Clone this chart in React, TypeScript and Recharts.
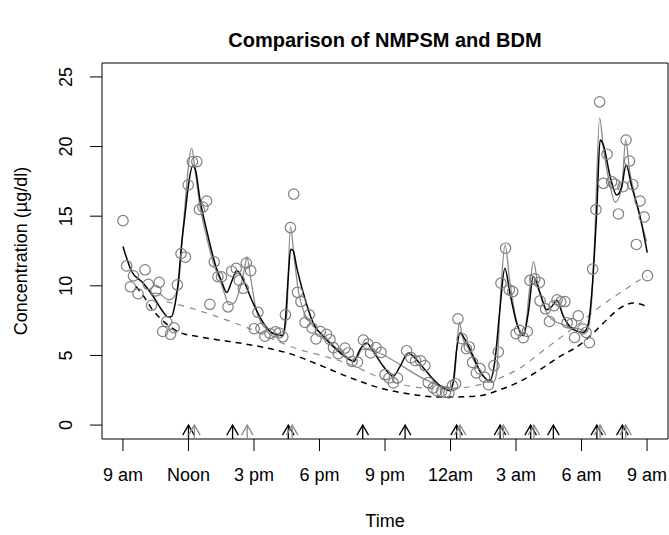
import React from 'react';
import {
  ComposedChart, Line, Scatter, XAxis, YAxis, ReferenceLine, ReferenceArea,
} from 'recharts';

// ---- data (time in hours after 9 am, concentration in µg/dl) ----
const xTicks = [0, 3, 6, 9, 12, 15, 18, 21, 24];
const xTickLabels = ['9 am', 'Noon', '3 pm', '6 pm', '9 pm', '12am', '3 am', '6 am', '9 am'];
const yTicks = [0, 5, 10, 15, 20, 25];

const observed: [number, number][] = [
  [0.0, 14.68], [0.17, 11.43], [0.34, 9.93], [0.48, 10.72], [0.69, 9.43], [1.01, 11.15], [1.16, 10.11],
  [1.31, 8.6], [1.51, 9.64], [1.66, 10.25], [1.82, 6.72], [2.0, 7.42], [2.18, 6.52], [2.34, 6.99],
  [2.49, 10.07], [2.66, 12.32], [2.86, 12.06], [2.99, 17.24], [3.18, 18.91], [3.38, 18.92], [3.5, 15.48],
  [3.66, 15.66], [3.83, 16.09], [3.98, 8.67], [4.18, 11.72], [4.35, 10.65], [4.51, 10.65], [4.81, 8.49],
  [4.98, 11.05], [5.19, 11.25], [5.33, 10.39], [5.51, 9.82], [5.65, 11.63], [5.85, 11.09], [6.01, 6.92],
  [6.18, 8.1], [6.32, 6.94], [6.5, 6.38], [6.73, 6.58], [6.98, 6.69], [7.15, 6.61], [7.32, 6.34],
  [7.44, 7.92], [7.67, 14.18], [7.82, 16.59], [7.99, 9.53], [8.15, 8.87], [8.34, 7.37], [8.53, 7.92],
  [8.66, 6.97], [8.84, 6.18], [9.04, 6.72], [9.32, 6.52], [9.48, 6.15], [9.64, 5.56], [9.86, 5.13],
  [10.17, 5.53], [10.32, 5.18], [10.49, 4.57], [10.74, 4.52], [11.01, 6.11], [11.22, 5.81], [11.34, 5.18],
  [11.59, 5.56], [11.82, 5.22], [12.0, 3.62], [12.18, 3.38], [12.38, 3.03], [12.57, 3.38], [12.99, 5.34],
  [13.19, 4.84], [13.4, 4.62], [13.63, 4.62], [13.83, 4.27], [13.98, 3.05], [14.21, 2.67], [14.38, 2.47],
  [14.59, 2.42], [14.77, 2.35], [14.93, 2.31], [15.09, 2.83], [15.23, 2.97], [15.34, 7.63], [15.53, 6.2],
  [15.73, 5.48], [15.86, 5.61], [16.01, 4.5], [16.18, 3.74], [16.35, 4.05], [16.56, 3.44], [16.74, 2.9],
  [16.99, 4.27], [17.19, 5.25], [17.31, 10.19], [17.52, 12.7], [17.69, 9.71], [17.85, 9.59], [18.0, 6.56],
  [18.16, 6.81], [18.33, 6.27], [18.52, 6.72], [18.64, 10.39], [18.86, 10.5], [19.07, 10.24], [19.1, 8.92],
  [19.35, 8.35], [19.53, 7.44], [19.74, 8.57], [19.88, 9.0], [20.05, 8.85], [20.24, 8.87], [20.34, 7.35],
  [20.55, 7.29], [20.68, 6.29], [20.85, 7.85], [21.06, 6.9], [21.21, 6.65], [21.36, 5.91], [21.51, 11.2],
  [21.66, 15.47], [21.83, 23.21], [22.0, 17.36], [22.17, 19.45], [22.38, 17.48], [22.53, 17.3], [22.69, 15.16],
  [22.9, 17.12], [23.04, 20.47], [23.2, 18.96], [23.35, 17.26], [23.51, 12.97], [23.68, 16.09], [23.87, 14.95],
  [24.02, 10.73],
];

const bdmFit: [number, number][] = [
  [0.0, 12.82], [0.4, 11.03], [0.93, 10.19], [1.39, 9.23], [1.77, 8.28], [2.07, 7.76], [2.23, 7.8],
  [2.38, 8.64], [2.52, 10.07], [2.69, 13.06], [2.84, 15.09], [2.99, 17.12], [3.19, 18.6], [3.3, 18.44],
  [3.53, 16.16], [3.83, 14.01], [4.21, 11.63], [4.52, 10.31], [4.75, 9.52], [4.98, 10.31], [5.21, 11.1],
  [5.51, 10.43], [5.89, 9.0], [6.43, 7.33], [6.88, 6.56], [7.31, 6.42], [7.44, 7.56], [7.56, 10.43],
  [7.68, 12.63], [7.8, 12.51], [7.95, 11.38], [8.26, 9.48], [8.71, 7.33], [9.17, 6.37], [9.79, 5.41],
  [10.24, 4.82], [10.58, 4.57], [10.85, 5.41], [11.16, 5.89], [11.46, 5.29], [11.92, 4.22], [12.38, 3.5],
  [12.69, 4.22], [13.07, 5.18], [13.3, 4.93], [13.76, 4.1], [14.37, 3.03], [14.98, 2.47], [15.13, 3.14],
  [15.28, 5.41], [15.44, 6.61], [15.67, 6.13], [16.04, 4.93], [16.35, 3.86], [16.81, 3.21], [17.04, 4.7],
  [17.26, 8.28], [17.49, 11.27], [17.72, 9.48], [18.03, 7.33], [18.33, 6.42], [18.56, 8.04], [18.79, 10.67],
  [19.1, 9.48], [19.41, 8.28], [19.64, 8.52], [19.87, 8.95], [20.17, 7.8], [20.63, 6.85], [21.08, 6.65],
  [21.3, 7.2], [21.47, 9.48], [21.7, 15.45], [21.85, 20.47], [22.0, 20.11], [22.31, 17.84], [22.61, 16.52],
  [22.84, 17.12], [23.04, 18.67], [23.3, 17.12], [23.68, 14.97], [24.01, 12.39],
];

const nmpsmFit: [number, number][] = [
  [1.24, 9.45], [1.62, 9.45], [2.07, 9.0], [2.23, 9.05], [2.38, 9.3], [2.53, 9.95], [2.76, 14.25],
  [3.15, 19.87], [3.3, 18.32], [3.53, 15.68], [3.83, 13.53], [4.14, 11.63], [4.44, 10.43], [4.67, 9.36],
  [4.85, 8.64], [5.1, 8.78], [5.4, 10.07], [5.6, 11.5], [5.67, 12.1], [5.85, 10.57], [6.05, 8.64],
  [6.3, 7.42], [6.7, 6.77], [7.1, 6.56], [7.35, 6.52], [7.5, 7.92], [7.67, 14.25], [7.85, 11.86],
  [8.05, 9.5], [8.3, 8.06], [8.7, 7.13], [9.2, 6.42], [9.8, 5.48], [10.2, 4.98], [10.5, 4.62],
  [10.75, 4.91], [10.95, 5.45], [14.0, 3.15], [14.5, 2.83], [14.95, 2.7], [15.15, 3.1], [15.3, 5.75],
  [15.4, 7.4], [15.55, 6.3], [15.8, 5.55], [16.05, 4.7], [16.35, 3.9], [16.7, 3.2], [16.95, 3.05],
  [17.1, 3.6], [17.3, 9.5], [17.5, 12.94], [17.7, 10.5], [18.0, 7.6], [18.25, 6.55], [18.4, 6.7],
  [18.6, 9.5], [18.8, 11.74], [18.98, 10.3], [19.2, 8.9], [19.5, 7.8], [20.0, 7.3], [20.6, 7.0],
  [21.0, 6.85], [21.25, 6.74], [21.45, 8.64], [21.6, 13.3], [21.83, 22.04], [22.0, 19.9], [22.25, 17.6],
  [22.55, 16.0], [22.85, 17.12], [23.02, 20.47], [23.2, 18.3], [23.5, 16.1], [23.8, 14.2], [23.98, 13.2],
];

const bdmBaseline: [number, number][] = [
  [0.6, 9.95], [1.0, 9.13], [1.3, 8.4], [1.7, 7.68], [2.15, 7.08], [2.6, 6.65], [3.4, 6.37], [4.3, 6.13],
  [5.35, 5.89], [6.6, 5.53], [7.6, 5.15], [9.02, 4.3], [10.25, 3.5], [11.77, 2.67], [13.3, 2.19],
  [14.37, 2.02], [15.28, 2.02], [16.35, 2.11], [17.27, 2.54], [18.19, 3.14], [19.1, 3.98], [20.01, 4.93],
  [20.93, 5.77], [21.54, 6.61], [22.15, 7.56], [22.76, 8.4], [23.37, 8.76], [23.8, 8.64], [23.98, 8.4],
];

const nmpsmBaseline: [number, number][] = [
  [2.0, 8.85], [3.0, 8.45], [4.0, 7.95], [5.0, 7.4], [6.0, 6.8], [7.19, 5.95], [8.1, 5.41], [9.2, 4.95],
  [10.25, 4.46], [11.77, 3.4], [13.3, 2.75], [14.52, 2.6], [15.44, 2.67], [16.35, 2.9], [17.27, 3.38],
  [18.19, 4.1], [19.1, 5.17], [20.01, 6.25], [20.93, 7.33], [21.85, 8.52], [22.76, 9.48], [23.68, 10.43],
  [24.0, 10.67],
];

const bdmPulseTimes = [3.0, 5.02, 7.57, 10.98, 12.92, 15.28, 17.27, 18.67, 19.71, 21.7, 22.87];
const nmpsmPulseTimes = [3.27, 5.69, 7.75, 15.44, 17.42, 18.82, 21.85, 23.02];

const X_DOMAIN: [number, number] = [-0.96, 24.96];
const Y_DOMAIN: [number, number] = [-1, 26];

const toRows = (pairs: [number, number][]) => pairs.map(([t, v]) => ({ t, v }));

const FONT = '"Liberation Sans", Arial, Helvetica, sans-serif';
const GRAY = '#7f7f7f';

const XTick = (props: any) => {
  const { x, y, payload } = props;
  const idx = xTicks.indexOf(payload.value);
  return (
    <text x={x} y={y} dy="0.71em" textAnchor="middle" fontSize={18} fontFamily={FONT} fill="#000">
      {idx >= 0 ? xTickLabels[idx] : ''}
    </text>
  );
};

const YTick = (props: any) => {
  const { x, y, payload } = props;
  return (
    <text x={x} y={y} transform={`rotate(-90 ${x} ${y})`} textAnchor="middle" fontSize={18} fontFamily={FONT} fill="#000">
      {payload.value}
    </text>
  );
};

const arrowShape = (color: string) => (props: any) => {
  const { x1, y1, x2, y2 } = props;
  const tipY = Math.min(y1, y2);
  const baseY = Math.max(y1, y2);
  const x = x1;
  return (
    <g>
      <line x1={x} y1={baseY} x2={x} y2={tipY} stroke={color} strokeWidth={1.3} />
      <polyline
        points={`${x - 5.8},${tipY + 10} ${x},${tipY} ${x + 5.8},${tipY + 10}`}
        fill="none"
        stroke={color}
        strokeWidth={1.3}
      />
    </g>
  );
};

const Circle = (props: any) => {
  const { cx, cy } = props;
  if (cx == null || cy == null) return <g />;
  return <circle cx={cx} cy={cy} r={5.2} fill="none" stroke={GRAY} strokeWidth={1.2} />;
};

export default function App() {
  return (
    <div style={{ position: 'absolute', left: 0, top: 0, width: 669, height: 535, background: '#fff' }}>
      <ComposedChart width={669} height={535} margin={{ top: 63, right: 1, bottom: 0, left: 0 }}>
        <XAxis
          type="number"
          dataKey="t"
          domain={X_DOMAIN}
          allowDataOverflow
          ticks={xTicks}
          interval={0}
          height={96}
          tickSize={12}
          tickMargin={17}
          axisLine={false}
          tickLine={{ stroke: '#000', strokeWidth: 1 }}
          tick={<XTick />}
        />
        <YAxis
          type="number"
          dataKey="v"
          domain={Y_DOMAIN}
          allowDataOverflow
          ticks={yTicks}
          interval={0}
          width={102}
          tickSize={12}
          tickMargin={18}
          axisLine={false}
          tickLine={{ stroke: '#000', strokeWidth: 1 }}
          tick={<YTick />}
        />
        <ReferenceArea
          x1={X_DOMAIN[0]}
          x2={X_DOMAIN[1]}
          y1={Y_DOMAIN[0]}
          y2={Y_DOMAIN[1]}
          fill="none"
          fillOpacity={0}
          stroke="#000"
          strokeWidth={1}
          ifOverflow="visible"
        />
        <Scatter data={toRows(observed)} dataKey="v" shape={<Circle />} isAnimationActive={false} />
        <Line data={toRows(nmpsmBaseline)} dataKey="v" type="monotone" stroke="#8c8c8c" strokeWidth={1.2}
          strokeDasharray="6 6" dot={false} activeDot={false} isAnimationActive={false} />
        <Line data={toRows(bdmBaseline)} dataKey="v" type="monotone" stroke="#000" strokeWidth={1.5}
          strokeDasharray="6 5" dot={false} activeDot={false} isAnimationActive={false} />
        <Line data={toRows(nmpsmFit)} dataKey="v" type="monotone" stroke="#8c8c8c" strokeWidth={1.3}
          dot={false} activeDot={false} isAnimationActive={false} />
        <Line data={toRows(bdmFit)} dataKey="v" type="monotone" stroke="#000" strokeWidth={1.5}
          dot={false} activeDot={false} isAnimationActive={false} />
        {bdmPulseTimes.map((t) => (
          <ReferenceLine key={`b${t}`} segment={[{ x: t, y: -1 }, { x: t, y: 0 }]} stroke="#000"
            ifOverflow="visible" shape={arrowShape('#000')} />
        ))}
        {nmpsmPulseTimes.map((t) => (
          <ReferenceLine key={`g${t}`} segment={[{ x: t, y: -1 }, { x: t, y: 0 }]} stroke="#8c8c8c"
            ifOverflow="visible" shape={arrowShape('#8c8c8c')} />
        ))}
      </ComposedChart>
      <div style={{ position: 'absolute', left: 385, top: 40, transform: 'translate(-50%, -50%)', whiteSpace: 'nowrap',
        fontFamily: FONT, fontWeight: 'bold', fontSize: 20, color: '#000' }}>
        Comparison of NMPSM and BDM
      </div>
      <div style={{ position: 'absolute', left: 385, top: 521, transform: 'translate(-50%, -50%)', whiteSpace: 'nowrap',
        fontFamily: FONT, fontSize: 18, color: '#000' }}>
        Time
      </div>
      <div style={{ position: 'absolute', left: 21, top: 251, transform: 'translate(-50%, -50%) rotate(-90deg)',
        whiteSpace: 'nowrap', fontFamily: FONT, fontSize: 18, color: '#000' }}>
        Concentration (µg/dl)
      </div>
    </div>
  );
}
